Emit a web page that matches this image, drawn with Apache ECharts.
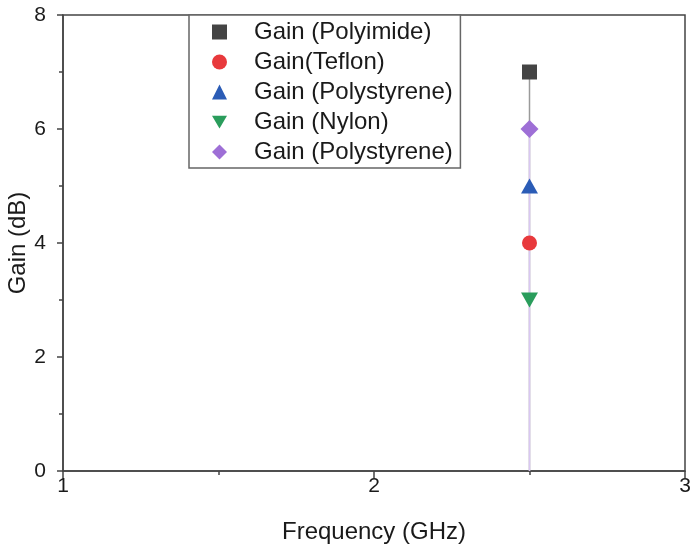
<!DOCTYPE html>
<html>
<head>
<meta charset="utf-8">
<script src="https://cdn.jsdelivr.net/npm/echarts@6/dist/echarts.min.js"></script>
<style>
  html, body { margin: 0; padding: 0; background: #fff; }
  #chart { width: 691px; height: 550px; }
</style>
</head>
<body>
<div id="chart"></div>
<script>
// Gain des antennes a 2.5 GHz selon le substrat
const frequency = 2.5;
const seriesNames = ["Gain (Polyimide)", "Gain(Teflon)", "Gain (Polystyrene)", "Gain (Nylon)", "Gain (Polystyrene) "];
const gainValues = [7, 4, 5, 3, 6];
const xTicks = [1, 2, 3];
const yTicks = [0, 2, 4, 6, 8];

const TRI_DOWN = "path://M0,0L20,0L10,17Z";
const markers = [
  { symbol: "rect", icon: "rect", size: 15, rotate: 0, color: "#444444" },
  { symbol: "circle", icon: "circle", size: 15, rotate: 0, color: "#e8393c" },
  { symbol: "triangle", icon: "triangle", size: [17, 15], rotate: 0, color: "#2b5cb6" },
  { symbol: "triangle", icon: TRI_DOWN, size: [17, 15], rotate: 180, color: "#2a9d5c" },
  { symbol: "diamond", icon: "diamond", size: 18, rotate: 0, color: "#9e6fd6" }
];

// lignes verticales vers 0 : grise pour le polyimide, violette pour le dernier
const dropLines = [
  { idx: 0, color: "#9a9a9a" },
  { idx: 4, color: "#d9c7f2" }
];

const FONT = "Liberation Sans";
const TEXT = "#1a1a1a";

const chart = echarts.init(document.getElementById("chart"));

const series = [];
dropLines.forEach((dl) => {
  series.push({
    type: "line",
    data: [[frequency, 0], [frequency, gainValues[dl.idx]]],
    showSymbol: false,
    silent: true,
    z: 1,
    lineStyle: { color: dl.color, width: 1.5 }
  });
});
seriesNames.forEach((name, i) => {
  const m = markers[i];
  series.push({
    name,
    type: "scatter",
    data: [[frequency, gainValues[i]]],
    symbol: m.symbol,
    symbolSize: m.size,
    symbolRotate: m.rotate,
    itemStyle: { color: m.color, opacity: 1 },
    z: 3
  });
});

chart.setOption({
  animation: false,
  backgroundColor: "#fff",
  textStyle: { fontFamily: FONT },
  grid: {
    left: 63, right: 6, top: 15, bottom: 79,
    outerBoundsMode: "none",
    containLabel: false,
    show: true, borderColor: "#444", borderWidth: 1.5
  },
  legend: {
    orient: "vertical",
    left: 189,
    top: 15,
    data: seriesNames.map((name, i) => ({ name, icon: markers[i].icon })),
    itemWidth: 15,
    itemHeight: 15,
    itemGap: 6,
    padding: [5, 1, 4, 23],
    backgroundColor: "#fff",
    borderColor: "#666",
    borderWidth: 1.5,
    borderRadius: 0,
    selectedMode: false,
    textStyle: { fontFamily: FONT, fontSize: 24, lineHeight: 24, color: TEXT, padding: [0, 0, 0, 22] }
  },
  xAxis: {
    type: "value",
    min: xTicks[0],
    max: xTicks[xTicks.length - 1],
    interval: 1,
    name: "Frequency (GHz)",
    nameLocation: "middle",
    nameGap: 49,
    nameMoveOverlap: false,
    nameTextStyle: { fontFamily: FONT, fontSize: 24, color: TEXT },
    axisLine: { lineStyle: { color: "#444", width: 1.5 } },
    axisTick: { length: 7, lineStyle: { color: "#444", width: 1.5 } },
    minorTick: { show: true, splitNumber: 2, length: 4, lineStyle: { color: "#444", width: 1.5 } },
    axisLabel: { fontFamily: FONT, fontSize: 21, color: TEXT, margin: 5 },
    splitLine: { show: false }
  },
  yAxis: {
    type: "value",
    min: yTicks[0],
    max: yTicks[yTicks.length - 1],
    interval: 2,
    name: "Gain (dB)",
    nameLocation: "middle",
    nameGap: 33,
    nameMoveOverlap: false,
    nameTextStyle: { fontFamily: FONT, fontSize: 24, color: TEXT },
    axisLine: { show: true, lineStyle: { color: "#444", width: 1.5 } },
    axisTick: { show: true, length: 6, lineStyle: { color: "#444", width: 1.5 } },
    minorTick: { show: true, splitNumber: 2, length: 4, lineStyle: { color: "#444", width: 1.5 } },
    axisLabel: { fontFamily: FONT, fontSize: 21, color: TEXT, margin: 17 },
    splitLine: { show: false }
  },
  series
});
</script>
</body>
</html>
